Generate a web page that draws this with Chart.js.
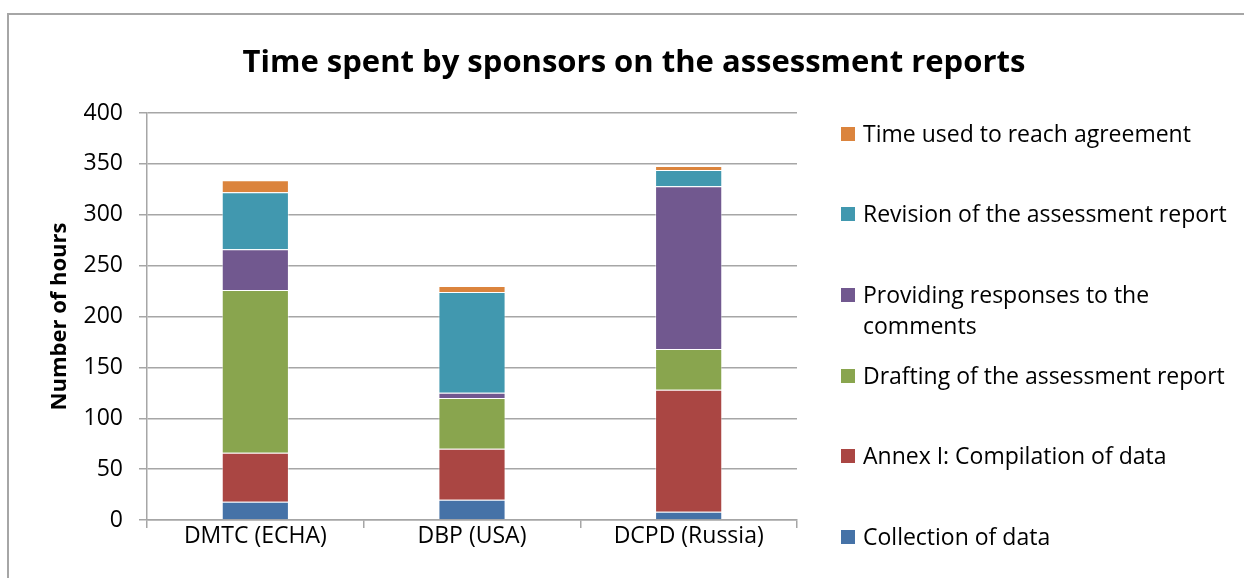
<!DOCTYPE html>
<html>
<head>
<meta charset="utf-8">
<script src="https://cdn.jsdelivr.net/npm/chart.js@4"></script>
<style>
  body { margin: 0; background: #fff; }
  #wrap { position: relative; width: 1244px; height: 578px; overflow: hidden; }
  #frame { position: absolute; left: 7px; top: 13px; width: 1300px; height: 700px;
           border-top: 2px solid #a6a6a6; border-left: 2px solid #a6a6a6; box-sizing: border-box; }
  canvas { position: absolute; left: 0; top: 0; }
  #title { position: absolute; left: 134px; width: 1000px; top: 38px; text-align: center;
           font-family: "Open Sans", sans-serif; font-weight: bold; font-size: 31px; line-height: 44px; color: #000; }
  #legend { position: absolute; left: 841px; top: 0; font-family: "Open Sans", sans-serif; font-size: 23px; color: #000; }
  .item { position: absolute; left: 0; width: 403px; line-height: 31px; }
  .item span.box { position: absolute; left: 0; top: 9px; width: 14px; height: 14px; }
  .item div { margin-left: 22px; white-space: nowrap; }
</style>
</head>
<body>
<div id="wrap">
  <div id="frame"></div>
  <canvas id="myChart" width="1244" height="578"></canvas>
  <div id="title">Time spent by sponsors on the assessment reports</div>
  <div id="legend"></div>
</div>
<script>
var categories = ['DMTC (ECHA)', 'DBP (USA)', 'DCPD (Russia)'];
var collection = [18, 20, 8];
var annex = [48, 50, 120];
var drafting = [160, 50, 40];
var responses = [40, 5, 160];
var revision = [56, 99, 16];
var agreement = [12, 6, 4];
var yTicks = [0, 50, 100, 150, 200, 250, 300, 350, 400];

var series = [
  { label: 'Collection of data', data: collection, color: '#4572A7' },
  { label: 'Annex I: Compilation of data', data: annex, color: '#AA4643' },
  { label: 'Drafting of the assessment report', data: drafting, color: '#89A54E' },
  { label: 'Providing responses to the comments', data: responses, color: '#71588F' },
  { label: 'Revision of the assessment report', data: revision, color: '#4198AF' },
  { label: 'Time used to reach agreement', data: agreement, color: '#DB843D' }
];

var gray = '#a6a6a6';
var ctx = document.getElementById('myChart').getContext('2d');
var myChart = new Chart(ctx, {
  type: 'bar',
  data: {
    labels: categories,
    datasets: series.map(function (s) {
      return {
        label: s.label,
        data: s.data,
        backgroundColor: s.color,
        borderColor: 'rgba(255,255,255,0.45)',
        borderWidth: 1,
        categoryPercentage: 0.31,
        barPercentage: 1
      };
    })
  },
  options: {
    responsive: false,
    animation: false,
    layout: { padding: { left: 0, right: 447, top: 113, bottom: 0 } },
    plugins: {
      legend: { display: false },
      tooltip: { enabled: false }
    },
    scales: {
      x: {
        stacked: true,
        grid: { drawOnChartArea: false, offset: true, color: gray, lineWidth: 1.5, tickLength: 8 },
        border: { color: gray, width: 1.5 },
        ticks: { color: '#000', font: { family: 'Open Sans', size: 23 }, padding: -5 },
        afterFit: function (scale) { scale.height = 58; }
      },
      y: {
        stacked: true,
        min: 0,
        max: 400,
        afterBuildTicks: function (scale) {
          scale.ticks = yTicks.map(function (v) { return { value: v }; });
        },
        grid: { color: gray, lineWidth: 1.5, tickLength: 8 },
        border: { color: gray, width: 1.5 },
        ticks: { color: '#000', font: { family: 'Open Sans', size: 23 }, padding: 16 },
        title: {
          display: true,
          text: 'Number of hours',
          color: '#000',
          font: { family: 'Open Sans', size: 22, weight: 'bold' },
          padding: { top: 47, bottom: 0 }
        },
        afterFit: function (scale) { scale.width = 147; }
      }
    }
  }
});

// legend on the right, last series on top
var tops = [521, 440, 360, 279, 198, 118];
var legend = document.getElementById('legend');
series.forEach(function (s, i) {
  var el = document.createElement('div');
  el.className = 'item';
  el.style.top = tops[i] + 'px';
  var text = s.label === 'Providing responses to the comments'
    ? 'Providing responses to the<br>comments' : s.label;
  el.innerHTML = '<span class="box" style="background:' + s.color + '"></span><div>' + text + '</div>';
  legend.appendChild(el);
});
</script>
</body>
</html>
